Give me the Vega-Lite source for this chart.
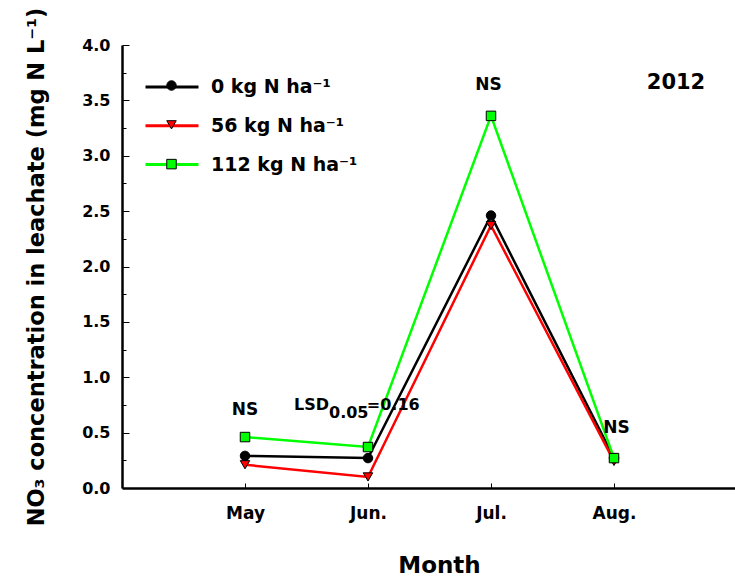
{
  "$schema": "https://vega.github.io/schema/vega-lite/v6.json",
  "width": 615,
  "height": 443,
  "autosize": "none",
  "padding": {"left": 122, "top": 45, "right": 0, "bottom": 89},
  "background": "white",
  "config": {"view": {"stroke": null}, "font": "DejaVu Sans"},
  "datasets": {
    "main": [
      {"month": 5, "value": 0.29, "series": "0 kg N ha⁻¹"},
      {"month": 6, "value": 0.27, "series": "0 kg N ha⁻¹"},
      {"month": 7, "value": 2.46, "series": "0 kg N ha⁻¹"},
      {"month": 8, "value": 0.27, "series": "0 kg N ha⁻¹"},
      {"month": 5, "value": 0.21, "series": "56 kg N ha⁻¹"},
      {"month": 6, "value": 0.10, "series": "56 kg N ha⁻¹"},
      {"month": 7, "value": 2.37, "series": "56 kg N ha⁻¹"},
      {"month": 8, "value": 0.24, "series": "56 kg N ha⁻¹"},
      {"month": 5, "value": 0.46, "series": "112 kg N ha⁻¹"},
      {"month": 6, "value": 0.37, "series": "112 kg N ha⁻¹"},
      {"month": 7, "value": 3.36, "series": "112 kg N ha⁻¹"},
      {"month": 8, "value": 0.27, "series": "112 kg N ha⁻¹"}
    ],
    "notes": [
      {"kind": "ns", "month": 5.0, "value": 0.707, "label": "NS"},
      {"kind": "ns", "month": 6.98, "value": 3.64, "label": "NS"},
      {"kind": "ns", "month": 8.02, "value": 0.539, "label": "NS"},
      {"kind": "lsd", "month": 5.683, "value": 0.745, "label": "LSD"},
      {"kind": "sub", "month": 5.683, "value": 0.677, "label": "0.05"},
      {"kind": "lsdr", "month": 5.99, "value": 0.745, "label": "=0.16"},
      {"kind": "year", "month": 8.504, "value": 3.657, "label": "2012"}
    ]
  },
  "layer": [
    {
      "data": {"name": "main"},
      "mark": {"type": "line", "strokeWidth": 2.5},
      "encoding": {
        "x": {
          "field": "month", "type": "quantitative",
          "scale": {"domain": [4, 9], "nice": false, "zero": false},
          "axis": {
            "values": [5, 6, 7, 8],
            "labelExpr": "datum.value == 5 ? 'May' : datum.value == 6 ? 'Jun.' : datum.value == 7 ? 'Jul.' : 'Aug.'",
            "tickSize": -5, "tickColor": "black", "tickWidth": 1,
            "domainColor": "black", "domainWidth": 2.5, "grid": false,
            "labelFont": "DejaVu Sans", "labelFontWeight": "bold", "labelFontSize": 17, "labelColor": "black",
            "labelPadding": 22,
            "title": "Month", "titleFont": "DejaVu Sans", "titleFontWeight": "bold", "titleFontSize": 23, "titleColor": "black",
            "titleX": 317, "titleY": 77, "titleBaseline": "middle", "titleAlign": "center"
          }
        },
        "y": {
          "field": "value", "type": "quantitative",
          "scale": {"domain": [0, 4], "nice": false},
          "axis": {
            "orient": "left",
            "values": [0, 0.5, 1, 1.5, 2, 2.5, 3, 3.5, 4],
            "format": ".1f",
            "tickSize": -7, "tickColor": "black", "tickWidth": 1,
            "domainColor": "black", "domainWidth": 2.5, "grid": false,
            "labelFont": "DejaVu Sans", "labelFontWeight": "bold", "labelFontSize": 16, "labelColor": "black",
            "labelPadding": 19, "labelOverlap": false,
            "title": "NO₃ concentration in leachate (mg N L⁻¹)",
            "titleFont": "DejaVu Sans", "titleFontWeight": "bold", "titleFontSize": 22.5, "titleColor": "black",
            "titleX": -86, "titleY": 221.5, "titleAngle": 270, "titleBaseline": "middle", "titleAlign": "center"
          }
        },
        "stroke": {
          "field": "series", "type": "nominal",
          "sort": ["0 kg N ha⁻¹", "56 kg N ha⁻¹", "112 kg N ha⁻¹"],
          "scale": {"range": ["#000000", "#ff0000", "#00ff00"]},
          "legend": {
            "orient": "none", "legendX": 22, "legendY": 14, "title": null, "padding": 0,
            "symbolType": "stroke", "symbolSize": 2809, "symbolStrokeWidth": 3,
            "labelFont": "DejaVu Sans", "labelFontWeight": "bold", "labelFontSize": 19, "labelColor": "black",
            "labelOffset": 11, "labelLimit": 0, "rowPadding": 0.8
          }
        }
      }
    },
    {
      "data": {"name": "main"},
      "mark": {"type": "point", "filled": true, "stroke": "black", "strokeWidth": 1, "size": 90, "opacity": 1},
      "encoding": {
        "x": {"field": "month", "type": "quantitative"},
        "y": {
          "field": "value", "type": "quantitative",
          "axis": {
            "orient": "left",
            "values": [0.25, 0.75, 1.25, 1.75, 2.25, 2.75, 3.25, 3.75],
            "labels": false, "domain": false, "grid": false,
            "tickSize": -4, "tickColor": "black", "tickWidth": 1, "title": null
          }
        },
        "color": {
          "field": "series", "type": "nominal",
          "scale": {"domain": ["0 kg N ha⁻¹", "56 kg N ha⁻¹", "112 kg N ha⁻¹"], "range": ["#000000", "#ff0000", "#00ff00"]},
          "legend": {
            "orient": "none", "legendX": 40, "legendY": 31, "title": null, "padding": 0,
            "symbolSize": 90, "symbolStrokeColor": "black", "symbolStrokeWidth": 1,
            "labelExpr": "''", "labelFontSize": 19, "labelLimit": 0, "rowPadding": 19.3
          }
        },
        "shape": {
          "field": "series", "type": "nominal",
          "scale": {"domain": ["0 kg N ha⁻¹", "56 kg N ha⁻¹", "112 kg N ha⁻¹"], "range": ["circle", "triangle-down", "square"]},
          "legend": {
            "orient": "none", "legendX": 40, "legendY": 31, "title": null, "padding": 0,
            "symbolSize": 90, "symbolStrokeColor": "black", "symbolStrokeWidth": 1,
            "labelExpr": "''", "labelFontSize": 19, "labelLimit": 0, "rowPadding": 19.3
          }
        }
      }
    },
    {
      "data": {"name": "notes"},
      "transform": [{"filter": "datum.kind == 'ns'"}],
      "mark": {"type": "text", "font": "DejaVu Sans", "fontWeight": "bold", "fontSize": 17, "color": "black", "align": "center", "baseline": "middle"},
      "encoding": {
        "x": {"field": "month", "type": "quantitative"},
        "y": {"field": "value", "type": "quantitative", "axis": null},
        "text": {"field": "label"}
      }
    },
    {
      "data": {"name": "notes"},
      "transform": [{"filter": "datum.kind == 'lsd'"}],
      "mark": {"type": "text", "font": "DejaVu Sans", "fontWeight": "bold", "fontSize": 16, "color": "black", "align": "right", "baseline": "middle"},
      "encoding": {
        "x": {"field": "month", "type": "quantitative"},
        "y": {"field": "value", "type": "quantitative", "axis": null},
        "text": {"field": "label"}
      }
    },
    {
      "data": {"name": "notes"},
      "transform": [{"filter": "datum.kind == 'sub' || datum.kind == 'lsdr'"}],
      "mark": {"type": "text", "font": "DejaVu Sans", "fontWeight": "bold", "fontSize": 16, "color": "black", "align": "left", "baseline": "middle"},
      "encoding": {
        "x": {"field": "month", "type": "quantitative"},
        "y": {"field": "value", "type": "quantitative", "axis": null},
        "text": {"field": "label"}
      }
    },
    {
      "data": {"name": "notes"},
      "transform": [{"filter": "datum.kind == 'year'"}],
      "mark": {"type": "text", "font": "DejaVu Sans", "fontWeight": "bold", "fontSize": 21, "color": "black", "align": "center", "baseline": "middle"},
      "encoding": {
        "x": {"field": "month", "type": "quantitative"},
        "y": {"field": "value", "type": "quantitative", "axis": null},
        "text": {"field": "label"}
      }
    }
  ],
  "resolve": {"axis": {"y": "independent"}}
}
